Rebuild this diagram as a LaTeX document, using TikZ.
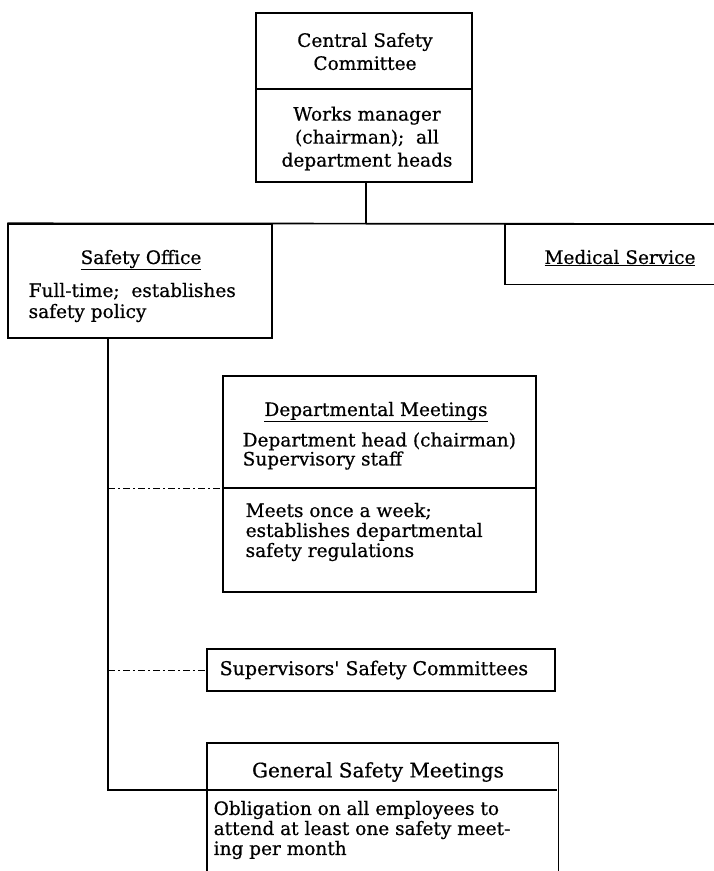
\documentclass[tikz,border=0pt]{standalone}
\usepackage{fontspec}
\setmainfont{DejaVu Serif}[FakeBold=0.6]
\newfontfamily\heavy{DejaVu Serif}[FakeBold=0.6]
\begin{document}
\begin{tikzpicture}[x=1pt,y=-1pt, line width=1.4pt,
  box/.style={draw, rectangle, inner sep=0pt},
  ghost/.style={rectangle, inner sep=0pt},
  txt/.style={inner sep=0pt, font=\heavy\fontsize{18.5}{22}\selectfont},
  link/.style={line width=1.7pt},
  advis/.style={line width=1pt, dash pattern=on 7pt off 3pt on 2pt off 3pt}]
\useasboundingbox (0,0) rectangle (714,871);

% Central Safety Committee
\node[box, minimum width=216pt, minimum height=169pt] (central) at (364,97.5) {};
\coordinate (cdl) at (256,89); \coordinate (cdr) at (472,89);
\draw (cdl) -- (cdr);
\node[txt, align=center, font=\heavy\fontsize{18.5}{23}\selectfont] (ctitle) at (365,51.5) {Central Safety\\Committee};
\node[txt, align=center, font=\heavy\fontsize{18.5}{23}\selectfont] (cbody) at (367,138.5) {Works manager\\(chairman);\ \ all\\department heads};

% Safety Office
\node[box, minimum width=264pt, minimum height=114pt] (safety) at (140,281) {};
\node[txt] (stitle) at (141,260) {\underline{Safety Office}};
\node[txt, align=left, anchor=west, font=\heavy\fontsize{18.5}{21}\selectfont] (sbody) at (28,302.5) {Full-time;\ \ establishes\\safety policy};

% Medical Service
\node[ghost, minimum width=230pt, minimum height=59pt, anchor=north west] (medical) at (505,224) {};
\draw (medical.north east) -- (medical.north west) -- (medical.south west) -- (medical.south east);
\node[txt] (mtitle) at (620,258) {\underline{Medical Service}};

% top connectors
\coordinate (jn) at ([xshift=2pt]central.south |- safety.north);
\draw[link] ([xshift=2pt]central.south) -- (jn);
\draw[link] (safety.north west) -- (medical.north east);

% Departmental Meetings
\node[box, minimum width=313pt, minimum height=216pt] (dept) at (379.5,484) {};
\coordinate (ddl) at (223,488); \coordinate (ddr) at (536,488);
\draw (ddl) -- (ddr);
\node[txt] (dtitle) at (376,412) {\underline{Departmental Meetings}};
\node[txt, align=left, anchor=west, font=\heavy\fontsize{18.5}{19}\selectfont] (dbody1) at (242,451) {Department head (chairman)\\Supervisory staff};
\node[txt, align=left, anchor=west, font=\heavy\fontsize{18.5}{20}\selectfont] (dbody2) at (245,532) {Meets once a week;\\establishes departmental\\safety regulations};

% Supervisors' Safety Committees
\node[box, minimum width=348pt, minimum height=42pt] (sup) at (381,670) {};
\node[txt, anchor=west, font=\heavy\fontsize{19}{22}\selectfont] (stxt) at (219,670) {Supervisors\textquotesingle{} Safety Committees};

% General Safety Meetings
\node[ghost, minimum width=350pt, minimum height=140pt, anchor=north west] (gen) at (207,743) {};
\draw (gen.south west) -- (gen.north west) -- (gen.north east) -- (gen.south east);
\coordinate (gdl) at (207,790); \coordinate (gdr) at (557,790);
\draw (gdl) -- (gdr);
\node[txt, font=\heavy\fontsize{20}{22}\selectfont] (gtitle) at (378,772) {General Safety Meetings};
\node[txt, align=left, anchor=west, font=\heavy\fontsize{18.5}{20}\selectfont] (gbody) at (213,830) {Obligation on all employees to\\attend at least one safety meet-\\ing per month};

% spine and branches
\coordinate (sp0) at ([xshift=-32pt]safety.south);
\draw[link] (sp0) |- (gdl);
\draw[advis] (sp0 |- ddl) -- (ddl);
\draw[advis] (sp0 |- sup.west) -- (sup.west);
\end{tikzpicture}
\end{document}
